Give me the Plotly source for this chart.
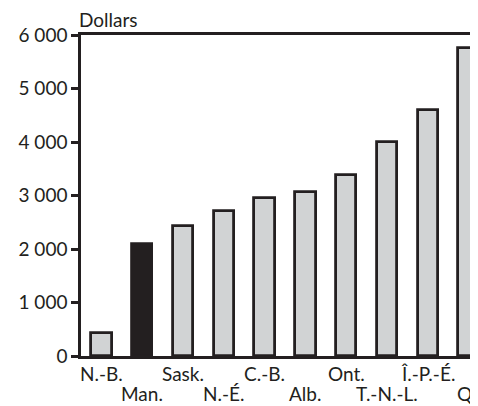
import plotly.graph_objects as go

provinces = ["N.-B.", "Man.", "Sask.", "N.-É.", "C.-B.", "Alb.", "Ont.", "T.-N.-L.", "Î.-P.-É.", "Qc"]
values = [430, 2100, 2430, 2710, 2950, 3060, 3380, 4000, 4590, 5760]
highlight = "Man."
y_ticks = [0, 1000, 2000, 3000, 4000, 5000, 6000]
y_labels = ["0", "1 000", "2 000", "3 000", "4 000", "5 000", "6 000"]

INK = "#231f20"
GREY = "#d1d3d4"
FONT = "Lato"
FS = 19

colors = [INK if p == highlight else GREY for p in provinces]
xs = list(range(len(provinces)))

fig = go.Figure()
fig.add_trace(go.Bar(
    x=xs, y=values, width=0.5,
    marker=dict(color=colors, line=dict(color=INK, width=2.8)),
    hoverinfo="skip",
))

annotations = [dict(
    text="Dollars", xref="paper", yref="paper", x=0, y=1,
    xanchor="left", yanchor="bottom", yshift=2, xshift=-4, showarrow=False,
    font=dict(family=FONT, size=FS, color=INK),
)]
for i, p in enumerate(provinces):
    annotations.append(dict(
        text=p, x=i, y=0, xref="x", yref="y",
        xanchor="center", yanchor="top",
        yshift=-4 if i % 2 == 0 else -24,
        showarrow=False,
        font=dict(family=FONT, size=FS, color=INK),
    ))

fig.update_layout(
    width=470, height=398,
    margin=dict(l=73, r=0, t=27, b=50, autoexpand=False),
    paper_bgcolor="white", plot_bgcolor="white",
    font=dict(family=FONT, size=FS, color=INK),
    showlegend=False,
    bargap=0,
    xaxis=dict(
        range=[-0.5, 9.23], automargin=False,
        showticklabels=False,
        showline=True, linecolor=INK, linewidth=2.5, mirror=True,
        ticks="", showgrid=False, zeroline=False,
    ),
    yaxis=dict(
        range=[0, 6000], automargin=False,
        tickvals=y_ticks, ticktext=y_labels,
        showline=True, linecolor=INK, linewidth=2.5,
        ticks="outside", ticklen=7, tickwidth=2.5, tickcolor=INK,
        showgrid=False, zeroline=False,
        tickfont=dict(family=FONT, size=FS, color=INK),
    ),
    annotations=annotations,
)

fig.write_html("out.html")
